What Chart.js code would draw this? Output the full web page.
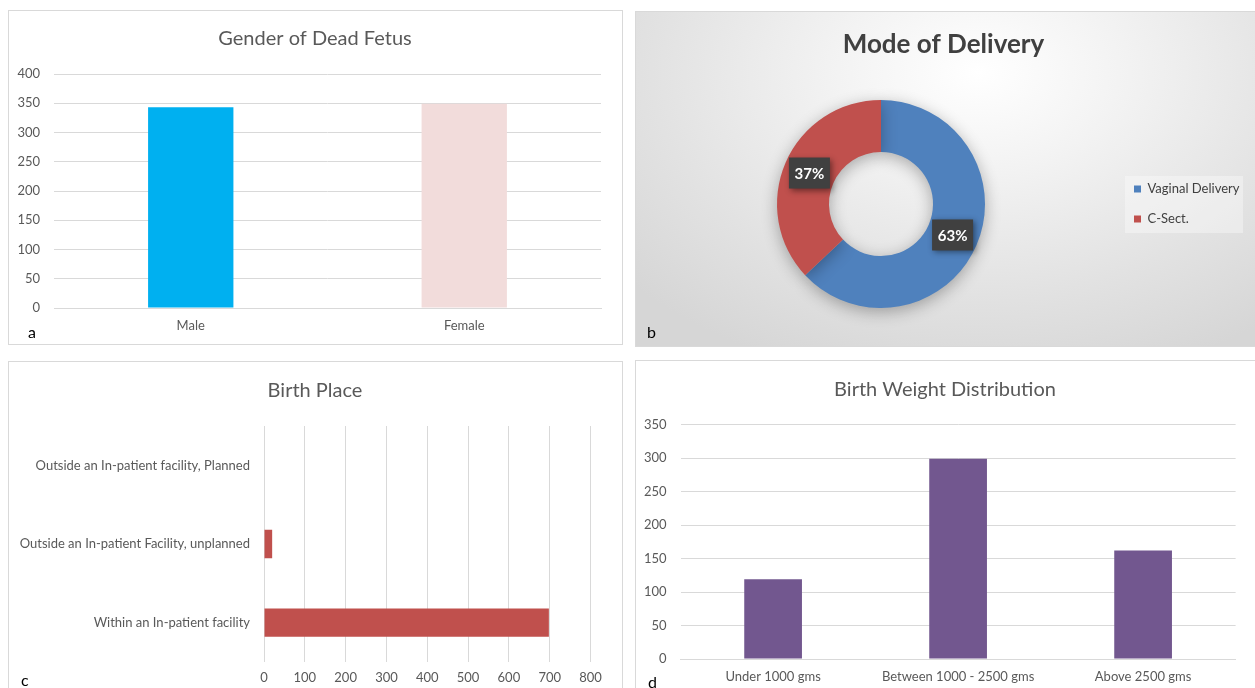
<!DOCTYPE html>
<html><head><meta charset="utf-8">
<script src="https://cdn.jsdelivr.net/npm/chart.js@4.4.1/dist/chart.umd.min.js"></script>
<style>
body{margin:0;width:1255px;height:688px;background:#fff;position:relative;overflow:hidden;font-family:Lato,sans-serif}
.panel{position:absolute;box-sizing:border-box;border:1px solid #d9d9d9;background:#fff}
canvas{position:absolute}
.tag{position:absolute;font-family:Lato,sans-serif;font-size:16px;color:#000;line-height:16px;z-index:5}
</style></head><body>
<div class="panel" style="left:8px;top:10px;width:615px;height:335px"></div>
<div class="panel" style="left:635px;top:11px;width:625px;height:336px;background:radial-gradient(ellipse 75% 95% at 55% 18%, #ffffff 0%, #f3f3f3 30%, #e2e2e2 70%, #d6d6d6 100%)"></div>
<div class="panel" style="left:8px;top:361px;width:615px;height:340px"></div>
<div class="panel" style="left:635px;top:360px;width:625px;height:340px"></div>
<canvas id="ca" width="614" height="334" style="left:8px;top:10px"></canvas>
<canvas id="cb" width="618" height="334" style="left:636px;top:12px"></canvas>
<canvas id="cc" width="614" height="327" style="left:8px;top:361px"></canvas>
<canvas id="cd" width="618" height="327" style="left:636px;top:361px"></canvas>
<div class="tag" style="left:28px;top:324px">a</div>
<div class="tag" style="left:647px;top:324px">b</div>
<div class="tag" style="left:21px;top:672px">c</div>
<div class="tag" style="left:648px;top:674px">d</div>
<script>
// ---- data ----
const genderLabels = ['Male', 'Female'];
const genderValues = [343, 349];
const genderColors = ['#00B0F0', '#F2DCDB'];

const deliveryLabels = ['Vaginal Delivery', 'C-Sect.'];
const deliveryValues = [63, 37];
const deliveryColors = ['#4F81BD', '#C0504D'];

const placeLabels = ['Outside an In-patient facility, Planned', 'Outside an In-patient Facility, unplanned', 'Within an In-patient facility'];
const placeValues = [0, 20, 698];

const weightLabels = ['Under 1000 gms', 'Between 1000 - 2500 gms', 'Above 2500 gms'];
const weightValues = [119, 299, 162];

// ---- defaults ----
Chart.defaults.font.family = 'Lato, sans-serif';
Chart.defaults.font.size = 13;
Chart.defaults.color = '#595959';
Chart.defaults.animation = false;
Chart.defaults.responsive = false;
Chart.defaults.plugins.legend.display = false;
Chart.defaults.plugins.tooltip.enabled = false;

const GRID = '#d9d9d9';
function titleOpts(text, top, bottom) {
  return {display: true, text: text, color: '#595959', font: {size: 20, weight: 'normal'}, padding: {top: top, bottom: bottom}};
}
// empty right-side spacer axis so the title stays centred over the whole panel
function spacer(w) {
  return {position: 'right', display: true, grid: {display: false, drawTicks: false}, ticks: {display: false},
          border: {display: false}, afterFit: a => { a.width = w; }};
}

// ---- a: Gender of Dead Fetus ----
new Chart(document.getElementById('ca'), {
  type: 'bar',
  data: {labels: genderLabels, datasets: [{data: genderValues, backgroundColor: genderColors, categoryPercentage: 0.8, barPercentage: 0.39}]},
  options: {
    plugins: {title: titleOpts('Gender of Dead Fetus', 16.8, 23.2)},
    scales: {
      y: {min: 0, max: 400, ticks: {stepSize: 50, padding: 14}, grid: {color: GRID, drawTicks: false}, border: {display: false},
          afterFit: a => { a.width = 46; }},
      yR: spacer(21),
      x: {grid: {display: false, drawTicks: false}, border: {color: GRID}, ticks: {padding: 10},
          afterFit: a => { a.height = 36; }}
    }
  }
});

// ---- b: Mode of Delivery ----
const labelBoxes = {
  id: 'labelBoxes',
  afterDatasetsDraw(chart) {
    const ctx = chart.ctx;
    const meta = chart.getDatasetMeta(0);
    const vals = chart.data.datasets[0].data;
    const total = vals.reduce((s, v) => s + v, 0);
    meta.data.forEach((arc, i) => {
      const p = arc.tooltipPosition();
      const txt = Math.round(vals[i] / total * 100) + '%';
      ctx.save();
      ctx.shadowColor = 'rgba(0,0,0,0.45)';
      ctx.shadowBlur = 6; ctx.shadowOffsetX = 2; ctx.shadowOffsetY = 2;
      ctx.fillStyle = '#404040';
      ctx.fillRect(p.x - 20.5, p.y - 15.5, 41, 31);
      ctx.restore();
      ctx.save();
      ctx.fillStyle = '#ffffff';
      ctx.font = 'bold 15px Lato, sans-serif';
      ctx.textAlign = 'center'; ctx.textBaseline = 'middle';
      ctx.fillText(txt, p.x, p.y + 1);
      ctx.restore();
    });
  }
};
const donutShadow = {
  id: 'donutShadow',
  beforeDatasetsDraw(chart) {
    const ctx = chart.ctx;
    ctx.save();
    ctx.shadowColor = 'rgba(0,0,0,0.30)';
    ctx.shadowBlur = 16; ctx.shadowOffsetY = 4;
  },
  afterDatasetsDraw(chart) { chart.ctx.restore(); }
};
const legendBg = {
  id: 'legendBg',
  beforeDraw(chart) {
    const l = chart.legend;
    if (!l) return;
    const ctx = chart.ctx;
    ctx.save();
    ctx.fillStyle = 'rgba(255,255,255,0.35)';
    ctx.fillRect(l.left + 8, 164, 118, 57);
    ctx.restore();
  }
};
new Chart(document.getElementById('cb'), {
  type: 'doughnut',
  data: {labels: deliveryLabels, datasets: [{data: deliveryValues, backgroundColor: deliveryColors, borderWidth: 0, hoverOffset: 0}]},
  options: {
    cutout: '50%',
    layout: {padding: {left: 9, right: 12, top: 0, bottom: 38}},
    plugins: {
      title: {display: true, text: 'Mode of Delivery', color: '#404040', font: {size: 26, weight: 'bold'}, padding: {top: 17, bottom: 39.8}},
      legend: {display: true, position: 'right', fullSize: false, maxWidth: 125,
        labels: {boxWidth: 7, boxHeight: 7, padding: 17, color: '#404040', font: {size: 13}}}
    }
  },
  plugins: [legendBg, donutShadow, labelBoxes]
});

// ---- c: Birth Place ----
new Chart(document.getElementById('cc'), {
  type: 'bar',
  data: {labels: placeLabels, datasets: [{data: placeValues, backgroundColor: '#C0504D', categoryPercentage: 0.8, barPercentage: 0.45}]},
  options: {
    indexAxis: 'y',
    plugins: {title: titleOpts('Birth Place', 18, 23)},
    scales: {
      x: {min: 0, max: 800, ticks: {stepSize: 100, padding: 8}, grid: {color: GRID, drawTicks: false}, border: {display: false},
          afterFit: a => { a.height = 26; }},
      y: {grid: {display: false, drawTicks: false}, border: {display: false}, ticks: {padding: 14},
          afterFit: a => { a.width = 256; }},
      yR: spacer(31.5)
    }
  }
});

// ---- d: Birth Weight Distribution ----
new Chart(document.getElementById('cd'), {
  type: 'bar',
  data: {labels: weightLabels, datasets: [{data: weightValues, backgroundColor: '#72578F', categoryPercentage: 0.8, barPercentage: 0.39}]},
  options: {
    plugins: {title: titleOpts('Birth Weight Distribution', 17, 22.5)},
    scales: {
      y: {min: 0, max: 350, ticks: {stepSize: 50, padding: 14}, grid: {color: GRID, drawTicks: false}, border: {display: false},
          afterFit: a => { a.width = 44.6; }},
      yR: spacer(18.4),
      x: {grid: {display: false, drawTicks: false}, border: {color: GRID}, ticks: {padding: 10},
          afterFit: a => { a.height = 29; }}
    }
  }
});
</script>
</body></html>
